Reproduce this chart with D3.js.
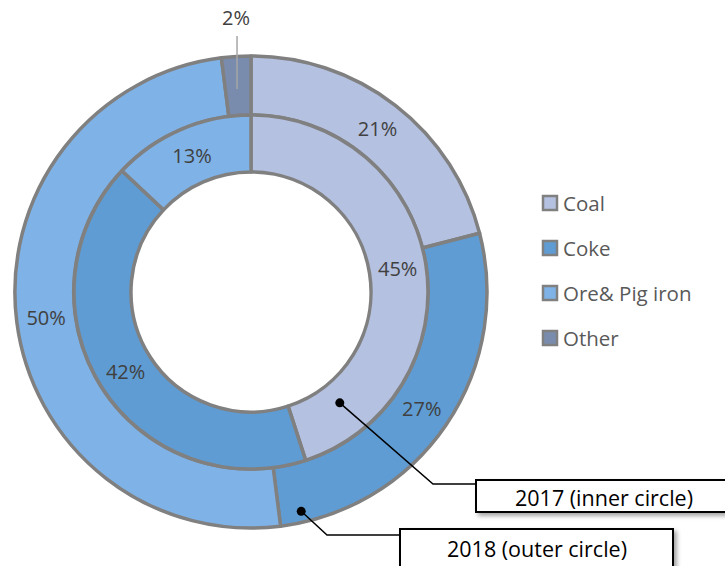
<!DOCTYPE html>
<html><head><meta charset="utf-8">
<script src="https://cdn.jsdelivr.net/npm/d3@7"></script>
<style>body{margin:0;background:#fff}svg{display:block}</style>
</head><body>
<svg id="c" width="725" height="566"></svg>
<script>
const categories = ["Coal", "Coke", "Ore& Pig iron", "Other"];
const values2018 = [21, 27, 50, 2];   // outer ring
const values2017 = [45, 42, 13, 0];   // inner ring
const colors = ["#b4c1e0", "#5e9cd3", "#7fb2e6", "#7a8cad"];
const ringLabels = ["2017 (inner circle)", "2018 (outer circle)"];

const W = 725, H = 566;
const cx = 251, cy = 292;
const rOuter = 236, rMid = 177, rHole = 120;
const svg = d3.select("#c");
const defs = svg.append("defs");
const f = defs.append("filter").attr("id","sh").attr("x","-10%").attr("y","-30%").attr("width","130%").attr("height","180%");
f.append("feDropShadow").attr("dx",3).attr("dy",3).attr("stdDeviation",2).attr("flood-color","#000").attr("flood-opacity",0.35);

const g = svg.append("g").attr("transform", `translate(${cx},${cy})`);
const pie = d3.pie().sort(null).value(d => d.v);
const color = d3.scaleOrdinal().domain(categories).range(colors);
const font = "'Open Sans', 'Noto Sans', sans-serif";

function ring(vals, r0, r1, cls) {
  const data = pie(vals.map((v,i)=>({v, c: categories[i]})));
  const arc = d3.arc().innerRadius(r0).outerRadius(r1);
  g.selectAll("path."+cls).data(data.filter(d=>d.data.v>0)).join("path")
    .attr("class", cls).attr("d", arc)
    .attr("fill", d => color(d.data.c))
    .attr("stroke", "#808080").attr("stroke-width", 3.5).attr("stroke-linejoin","round");
  return {data, arc};
}
const outer = ring(values2018, rMid, rOuter, "o");
const inner = ring(values2017, rHole, rMid, "i");

function labels(ringObj) {
  ringObj.data.filter(d=>d.data.v>0).forEach(d => {
    const [x,y] = ringObj.arc.centroid(d);
    if (d.data.v < 5) {
      g.append("line").attr("x1",x-1).attr("y1",y+3).attr("x2",x-1).attr("y2",-cy+36)
        .attr("stroke","#a6a6a6").attr("stroke-width",1.5);
      g.append("text").attr("x",x-2).attr("y",-cy+17).attr("text-anchor","middle").attr("dominant-baseline","central")
        .attr("font-family",font).attr("font-size",20).attr("fill","#404040").text(d.data.v+"%");
    } else {
      g.append("text").attr("x",x).attr("y",y).attr("text-anchor","middle").attr("dominant-baseline","central")
        .attr("font-family",font).attr("font-size",20).attr("fill","#404040").text(d.data.v+"%");
    }
  });
}
labels(outer); labels(inner);

// Legend
const leg = svg.append("g").attr("transform","translate(542,203)");
categories.forEach((c,i) => {
  const row = leg.append("g").attr("transform",`translate(0,${i*45})`);
  row.append("rect").attr("x",1).attr("y",-7).attr("width",14).attr("height",14)
    .attr("fill",color(c)).attr("stroke","#808080").attr("stroke-width",2.5);
  row.append("text").attr("x",21).attr("y",0).attr("dominant-baseline","central")
    .attr("font-family",font).attr("font-size",20.5).attr("fill","#595959").text(c);
});

// Annotation callouts
const pol = (a, r) => [cx + r*Math.sin(a*Math.PI/180), cy - r*Math.cos(a*Math.PI/180)];
const callouts = [
  {text: ringLabels[0], anchor: pol(141.3, 142), elbow: [433, 484], box: [476, 480, 260, 32], tc: [604, 497]},
  {text: ringLabels[1], anchor: pol(167.1, 225), elbow: [327, 535], box: [400, 529, 273, 40], tc: [537, 548]}
];
callouts.forEach(c => {
  svg.append("polyline").attr("points", [c.anchor, c.elbow, [c.box[0], c.elbow[1]]].map(p=>p.join(",")).join(" "))
    .attr("fill","none").attr("stroke","#000").attr("stroke-width",1.5);
  svg.append("circle").attr("cx",c.anchor[0]).attr("cy",c.anchor[1]).attr("r",4.5).attr("fill","#000");
  svg.append("rect").attr("x",c.box[0]).attr("y",c.box[1]).attr("width",c.box[2]).attr("height",c.box[3])
    .attr("fill","#fff").attr("stroke","#000").attr("stroke-width",2).attr("filter","url(#sh)");
  svg.append("text").attr("x",c.tc[0]).attr("y",c.tc[1]).attr("text-anchor","middle").attr("dominant-baseline","central")
    .attr("font-family",font).attr("font-size",21.5).attr("fill","#000").text(c.text);
});
</script>
</body></html>
